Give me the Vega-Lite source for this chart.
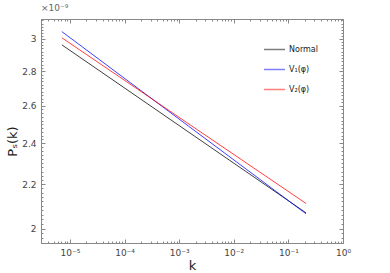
{
  "$schema": "https://vega.github.io/schema/vega-lite/v6.json",
  "width": 302,
  "height": 224,
  "autosize": {"type": "none"},
  "padding": {"left": 41, "top": 19, "right": 47, "bottom": 30},
  "background": "white",
  "title": {"text": "×10⁻⁹", "anchor": "start", "frame": "group", "fontSize": 9, "fontWeight": "normal", "color": "#666", "font": "DejaVu Sans", "offset": 3},
  "data": {"values": [
    {"series": "Normal", "k": 7.1e-6, "P": 2.962e-9},
    {"series": "Normal", "k": 0.21, "P": 2.069e-9},
    {"series": "V₁(φ)", "k": 7.1e-6, "P": 3.047e-9},
    {"series": "V₁(φ)", "k": 0.21, "P": 2.065e-9},
    {"series": "V₂(φ)", "k": 7.1e-6, "P": 3.007e-9},
    {"series": "V₂(φ)", "k": 0.21, "P": 2.111e-9}
  ]},
  "layer": [
    {
      "mark": {"type": "line", "strokeWidth": 0.75},
      "encoding": {
        "x": {"field": "k", "type": "quantitative",
          "scale": {"type": "log", "domain": [2.95e-6, 1], "nice": false},
          "axis": {"orient": "bottom", "grid": false,
            "values": [3e-6,4e-6,5e-6,6e-6,7e-6,8e-6,9e-6,1e-5,2e-5,3e-5,4e-5,5e-5,6e-5,7e-5,8e-5,9e-5,1e-4,2e-4,3e-4,4e-4,5e-4,6e-4,7e-4,8e-4,9e-4,1e-3,2e-3,3e-3,4e-3,5e-3,6e-3,7e-3,8e-3,9e-3,1e-2,2e-2,3e-2,4e-2,5e-2,6e-2,7e-2,8e-2,9e-2,0.1,0.2,0.3,0.4,0.5,0.6,0.7,0.8,0.9,1],
            "labelExpr": "abs(log(datum.value)/LN10 - round(log(datum.value)/LN10)) < 0.001 ? '10' + ['⁰','⁻¹','⁻²','⁻³','⁻⁴','⁻⁵','⁻⁶'][-round(log(datum.value)/LN10)] : ''",
            "tickSize": {"condition": {"test": "abs(log(datum.value)/LN10 - round(log(datum.value)/LN10)) < 0.001", "value": -4}, "value": -2},
            "labelPadding": 9, "labelOverlap": false, "labelFlush": false,
            "labelFontSize": 9, "labelFont": "DejaVu Sans", "labelColor": "#444",
            "tickColor": "#888", "domainColor": "#888",
            "title": "k", "titleFontSize": 13, "titleFontWeight": "normal", "titleFont": "DejaVu Sans", "titleColor": "#222", "titlePadding": 0}},
        "y": {"field": "P", "type": "quantitative",
          "scale": {"type": "log", "domain": [1.94e-9, 3.13e-9], "nice": false, "zero": false},
          "axis": {"orient": "left", "grid": false,
            "values": [1.94e-9,1.96e-9,1.98e-9,2e-9,2.02e-9,2.04e-9,2.06e-9,2.08e-9,2.1e-9,2.12e-9,2.14e-9,2.16e-9,2.18e-9,2.2e-9,2.22e-9,2.24e-9,2.26e-9,2.28e-9,2.3e-9,2.32e-9,2.34e-9,2.36e-9,2.38e-9,2.4e-9,2.42e-9,2.44e-9,2.46e-9,2.48e-9,2.5e-9,2.52e-9,2.54e-9,2.56e-9,2.58e-9,2.6e-9,2.62e-9,2.64e-9,2.66e-9,2.68e-9,2.7e-9,2.72e-9,2.74e-9,2.76e-9,2.78e-9,2.8e-9,2.82e-9,2.84e-9,2.86e-9,2.88e-9,2.9e-9,2.92e-9,2.94e-9,2.96e-9,2.98e-9,3e-9,3.02e-9,3.04e-9,3.06e-9,3.08e-9,3.1e-9,3.12e-9],
            "labelExpr": "abs(datum.value*5e9 - round(datum.value*5e9)) < 0.01 ? format(datum.value*1e9, '.2~r') : ''",
            "tickSize": {"condition": {"test": "abs(datum.value*5e9 - round(datum.value*5e9)) < 0.01", "value": -4}, "value": -2},
            "labelPadding": 9, "labelOverlap": false, "labelFlush": false,
            "labelFontSize": 9, "labelFont": "DejaVu Sans", "labelColor": "#444",
            "tickColor": "#888", "domainColor": "#888",
            "title": "Pₛ(k)", "titleFontSize": 13, "titleFontWeight": "normal", "titleFont": "DejaVu Sans", "titleColor": "#222",
            "titleX": -29, "titleY": 122, "titleAngle": -90, "titleAlign": "center", "titleBaseline": "middle"}},
        "color": {"field": "series", "type": "nominal",
          "scale": {"domain": ["Normal", "V₁(φ)", "V₂(φ)"], "range": ["#000000", "#0000ff", "#ff0000"]},
          "legend": {"orient": "none", "legendX": 222, "legendY": 19, "title": null,
            "symbolType": "stroke", "symbolSize": 441, "symbolStrokeWidth": 1.5, "symbolOpacity": 0.5,
            "labelFontSize": 8, "labelFont": "DejaVu Sans", "labelColor": "#222", "rowPadding": 4, "labelOffset": 3}}
      }
    },
    {
      "mark": {"type": "line", "opacity": 0},
      "encoding": {
        "x": {"field": "k", "type": "quantitative",
          "axis": {"orient": "top", "grid": false, "labels": false, "title": null,
            "values": [3e-6,4e-6,5e-6,6e-6,7e-6,8e-6,9e-6,1e-5,2e-5,3e-5,4e-5,5e-5,6e-5,7e-5,8e-5,9e-5,1e-4,2e-4,3e-4,4e-4,5e-4,6e-4,7e-4,8e-4,9e-4,1e-3,2e-3,3e-3,4e-3,5e-3,6e-3,7e-3,8e-3,9e-3,1e-2,2e-2,3e-2,4e-2,5e-2,6e-2,7e-2,8e-2,9e-2,0.1,0.2,0.3,0.4,0.5,0.6,0.7,0.8,0.9,1],
            "tickSize": {"condition": {"test": "abs(log(datum.value)/LN10 - round(log(datum.value)/LN10)) < 0.001", "value": -4}, "value": -2},
            "tickColor": "#888", "domainColor": "#888"}},
        "y": {"field": "P", "type": "quantitative",
          "axis": {"orient": "right", "grid": false, "labels": false, "title": null,
            "values": [1.94e-9,1.96e-9,1.98e-9,2e-9,2.02e-9,2.04e-9,2.06e-9,2.08e-9,2.1e-9,2.12e-9,2.14e-9,2.16e-9,2.18e-9,2.2e-9,2.22e-9,2.24e-9,2.26e-9,2.28e-9,2.3e-9,2.32e-9,2.34e-9,2.36e-9,2.38e-9,2.4e-9,2.42e-9,2.44e-9,2.46e-9,2.48e-9,2.5e-9,2.52e-9,2.54e-9,2.56e-9,2.58e-9,2.6e-9,2.62e-9,2.64e-9,2.66e-9,2.68e-9,2.7e-9,2.72e-9,2.74e-9,2.76e-9,2.78e-9,2.8e-9,2.82e-9,2.84e-9,2.86e-9,2.88e-9,2.9e-9,2.92e-9,2.94e-9,2.96e-9,2.98e-9,3e-9,3.02e-9,3.04e-9,3.06e-9,3.08e-9,3.1e-9,3.12e-9],
            "tickSize": {"condition": {"test": "abs(datum.value*5e9 - round(datum.value*5e9)) < 0.01", "value": -4}, "value": -2},
            "tickColor": "#888", "domainColor": "#888"}},
        "detail": {"field": "series", "type": "nominal"}
      }
    }
  ],
  "resolve": {"axis": {"x": "independent", "y": "independent"}},
  "config": {"view": {"stroke": null}}
}
